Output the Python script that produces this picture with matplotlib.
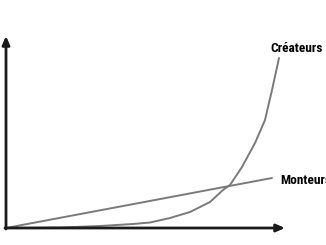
import matplotlib.pyplot as plt

# Courbe "Créateurs"
createurs_x = [0, 30, 54, 94, 127, 144, 164, 184, 204, 217, 224, 236, 249, 259, 266, 273]
createurs_y = [0, 0.2, 0.5, 2, 4, 5.5, 10, 16, 26, 38, 43, 61, 85, 108, 138, 170]

# Droite "Monteurs"
monteurs_x = [0, 266]
monteurs_y = [0, 50]

labels = ["Créateurs", "Monteurs"]

fig = plt.figure(figsize=(3.26, 2.45), dpi=100)
ax = fig.add_axes([0, 0, 1, 1])
ax.set_xlim(-6, 320)
ax.set_ylim(-17, 228)
ax.axis("off")

ax.plot(monteurs_x, monteurs_y, color="#7a7a7a", lw=1.4, solid_capstyle="round")
ax.plot(createurs_x, createurs_y, color="#7a7a7a", lw=1.4, solid_capstyle="round",
        solid_joinstyle="round")

# Axes avec flèches
arrow = dict(arrowstyle="-|>,head_length=0.5,head_width=0.22", color="#1a1a1a", lw=2, shrinkA=0, shrinkB=0)
ax.annotate("", xy=(0, 192), xytext=(0, -1), arrowprops=arrow)
ax.annotate("", xy=(279, 0), xytext=(-1, 0), arrowprops=arrow)

font = dict(family=["Roboto Condensed", "Liberation Sans Narrow", "Roboto"], weight="black",
            fontsize=9.6, color="#000000")
ax.text(264, 179, labels[0], ha="left", va="center", **font)
ax.text(274, 48, labels[1], ha="left", va="center", **font)

fig.savefig("out.png", dpi=100)
